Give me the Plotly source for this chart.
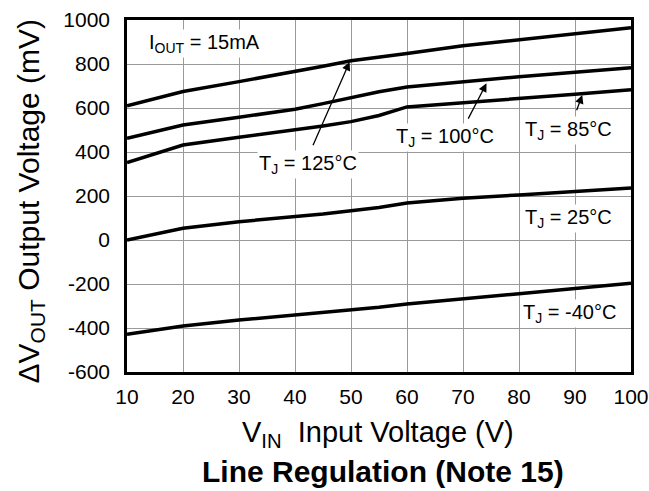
import plotly.graph_objects as go

vin = [10, 20, 30, 40, 45, 50, 55, 60, 70, 80, 90, 100]
t125 = [610, 675, 720, 765, 790, 815, 830, 848, 883, 910, 938, 965]
t100 = [462, 523, 558, 594, 620, 648, 674, 695, 720, 742, 762, 783]
t85 = [352, 432, 467, 500, 518, 538, 566, 605, 623, 643, 662, 683]
t25 = [0, 53, 83, 106, 118, 133, 148, 168, 190, 205, 220, 236]
tm40 = [-429, -391, -364, -341, -330, -318, -306, -291, -266, -244, -220, -197]

series = [t125, t100, t85, t25, tm40]

x_ticks = [10, 20, 30, 40, 50, 60, 70, 80, 90, 100]
y_ticks = [-600, -400, -200, 0, 200, 400, 600, 800, 1000]

FONT = "Liberation Sans, Arial, Helvetica, sans-serif"

fig = go.Figure()
for s in series:
    fig.add_trace(go.Scatter(x=vin, y=s, mode="lines",
                             line=dict(color="black", width=3.5),
                             showlegend=False, hoverinfo="skip"))

labels = [
    ("I<sub>OUT</sub> = 15mA", 13.6, 895, "left"),
    ("T<sub>J</sub> = 125°C", 42.3, 341, "center"),
    ("T<sub>J</sub> = 100°C", 66.8, 464, "center"),
    ("T<sub>J</sub> = 85°C", 88.8, 500, "center"),
    ("T<sub>J</sub> = 25°C", 88.8, 99, "center"),
    ("T<sub>J</sub> = -40°C", 89.0, -332, "center"),
]
for txt, x, y, xa in labels:
    fig.add_annotation(x=x, y=y, xref="x", yref="y", text=txt, showarrow=False,
                       xanchor=xa, yanchor="middle", bgcolor="white",
                       font=dict(size=20, color="black", family=FONT))

arrows = [
    (49.75, 809, 43.1, 424),
    (74.2, 712, 70.8, 545),
    (91.3, 659, 90.2, 583),
]
for hx, hy, tx, ty in arrows:
    fig.add_annotation(x=hx, y=hy, ax=tx, ay=ty, xref="x", yref="y",
                       axref="x", ayref="y", text="", showarrow=True,
                       arrowhead=2, arrowsize=1.3, arrowwidth=1.3,
                       arrowcolor="black", standoff=0, startstandoff=0)

# axis titles and chart title
fig.add_annotation(x=-0.192, y=0.485, xref="paper", yref="paper",
                   text="ΔV<sub>OUT</sub> Output Voltage (mV)", textangle=-90,
                   showarrow=False, xanchor="center", yanchor="middle",
                   font=dict(size=30, color="black", family=FONT))
fig.add_annotation(x=0.498, y=-0.176, xref="paper", yref="paper",
                   text="V<sub>IN</sub>  Input Voltage (V)",
                   showarrow=False, xanchor="center", yanchor="middle",
                   font=dict(size=29, color="black", family=FONT))
fig.add_annotation(x=0.507, y=-0.283, xref="paper", yref="paper",
                   text="<b>Line Regulation (Note 15)</b>",
                   showarrow=False, xanchor="center", yanchor="middle",
                   font=dict(size=30, color="black", family=FONT))

fig.update_xaxes(range=[10, 100], tickvals=x_ticks, ticktext=[str(v) for v in x_ticks],
                 showgrid=True, gridcolor="#9a9a9a", gridwidth=1,
                 showline=True, linecolor="black", linewidth=2.5, mirror=True,
                 ticks="", zeroline=False, ticklabelstandoff=4,
                 ticklabeloverflow="allow",
                 tickfont=dict(size=21, color="black", family=FONT))
fig.update_yaxes(range=[-600, 1000], tickvals=y_ticks, ticktext=[str(v) for v in y_ticks],
                 showgrid=True, gridcolor="#9a9a9a", gridwidth=1,
                 showline=True, linecolor="black", linewidth=2.5, mirror=True,
                 ticks="", zeroline=False, ticklabelstandoff=10,
                 tickfont=dict(size=21, color="black", family=FONT))

fig.update_layout(width=649, height=491,
                  margin=dict(l=127, r=18, t=20, b=119, autoexpand=False),
                  paper_bgcolor="white", plot_bgcolor="white",
                  font=dict(family=FONT, color="black"))

fig.write_html("out.html", config={"displayModeBar": False},
               post_script="document.body.style.margin='0px';document.body.style.padding='0px';")
